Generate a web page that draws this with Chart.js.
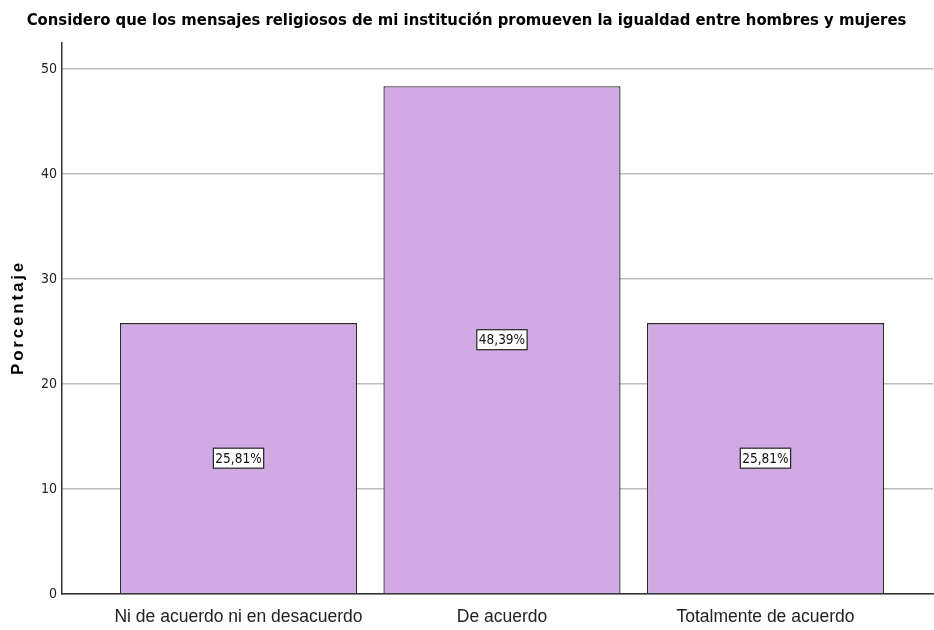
<!DOCTYPE html>
<html>
<head>
<meta charset="utf-8">
<script src="https://cdn.jsdelivr.net/npm/chart.js@4/dist/chart.umd.min.js"></script>
<style>
  html, body { margin: 0; padding: 0; background: #fff; }
  #wrap { width: 934px; height: 630px; }
</style>
</head>
<body>
<div id="wrap"><canvas id="chart"></canvas></div>
<script>
var titleText = 'Considero que los mensajes religiosos de mi institución promueven la igualdad entre hombres y mujeres';
var yTitle = 'Porcentaje';
var categories = ['Ni de acuerdo ni en desacuerdo', 'De acuerdo', 'Totalmente de acuerdo'];
var percents = [25.81, 48.39, 25.81];
var yTicks = [0, 10, 20, 30, 40, 50];

var narrow = '"Liberation Sans Narrow", "Arial Narrow", "DejaVu Sans Condensed", sans-serif';
var arial = '"Liberation Sans", Arial, sans-serif';

// white boxes with the percentage in the middle of each bar
var boxLabels = {
  id: 'boxLabels',
  afterDatasetsDraw: function(chart) {
    var ctx = chart.ctx;
    var meta = chart.getDatasetMeta(0);
    ctx.save();
    ctx.font = '13.5px ' + narrow;
    ctx.textAlign = 'center';
    ctx.textBaseline = 'middle';
    meta.data.forEach(function(bar, i) {
      var txt = percents[i].toFixed(2).replace('.', ',') + '%';
      var cy = (bar.y + bar.base) / 2;
      var w = ctx.measureText(txt).width + 4;
      var h = 20;
      ctx.fillStyle = '#fff';
      ctx.fillRect(bar.x - w / 2, cy - h / 2, w, h);
      ctx.strokeStyle = '#222';
      ctx.lineWidth = 1.2;
      ctx.strokeRect(bar.x - w / 2, cy - h / 2, w, h);
      ctx.fillStyle = '#111';
      ctx.fillText(txt, bar.x, cy + 1);
    });
    ctx.restore();
  }
};

// y axis title, letter-spaced like the original
var axisTitle = {
  id: 'axisTitle',
  afterDraw: function(chart) {
    var ctx = chart.ctx;
    var area = chart.chartArea;
    ctx.save();
    ctx.translate(18, (area.top + area.bottom) / 2);
    ctx.rotate(-Math.PI / 2);
    ctx.font = 'bold 17px ' + arial;
    if ('letterSpacing' in ctx) ctx.letterSpacing = '2.8px';
    ctx.textAlign = 'center';
    ctx.textBaseline = 'middle';
    ctx.fillStyle = '#000';
    ctx.fillText(yTitle, 1, 0);
    ctx.restore();
  }
};

new Chart(document.getElementById('chart'), {
  type: 'bar',
  data: {
    datasets: [{
      label: yTitle,
      data: percents.map(function(v, i) { return { x: i, y: v }; }),
      backgroundColor: '#d1aae4',
      borderColor: '#2a2a2a',
      borderWidth: 1.3,
      categoryPercentage: 1,
      barPercentage: 0.9
    }]
  },
  options: {
    responsive: true,
    maintainAspectRatio: false,
    animation: false,
    layout: { padding: { left: 0, right: 1, top: 0, bottom: 0 } },
    plugins: {
      legend: { display: false },
      tooltip: { enabled: false },
      title: {
        display: true,
        text: titleText,
        color: '#000',
        font: { family: narrow, size: 16.5, weight: 'bold', lineHeight: 1.2 },
        padding: { top: 11, bottom: 12.2 }
      }
    },
    scales: {
      x: {
        type: 'linear',
        offset: false,
        min: -0.67,
        max: 2.636,
        grid: { display: false, drawTicks: false },
        border: { display: true, color: '#333', width: 1.5 },
        afterBuildTicks: function(scale) {
          scale.ticks = categories.map(function(c, i) { return { value: i }; });
        },
        afterFit: function(scale) { scale.height = 36; },
        ticks: {
          autoSkip: false,
          maxRotation: 0,
          padding: 13,
          color: '#222',
          font: { family: arial, size: 17.5 },
          callback: function(v) { return categories[v]; }
        }
      },
      y: {
        min: 0,
        max: 52.5,
        afterBuildTicks: function(scale) {
          scale.ticks = yTicks.map(function(v) { return { value: v }; });
        },
        afterFit: function(scale) { scale.width = 62; },
        grid: { color: '#bdbdbd', lineWidth: 1.5, drawTicks: false },
        border: { display: true, color: '#333', width: 1.5 },
        ticks: {
          padding: 5,
          color: '#222',
          font: { family: narrow, size: 14 }
        }
      }
    }
  },
  plugins: [boxLabels, axisTitle]
});
</script>
</body>
</html>
